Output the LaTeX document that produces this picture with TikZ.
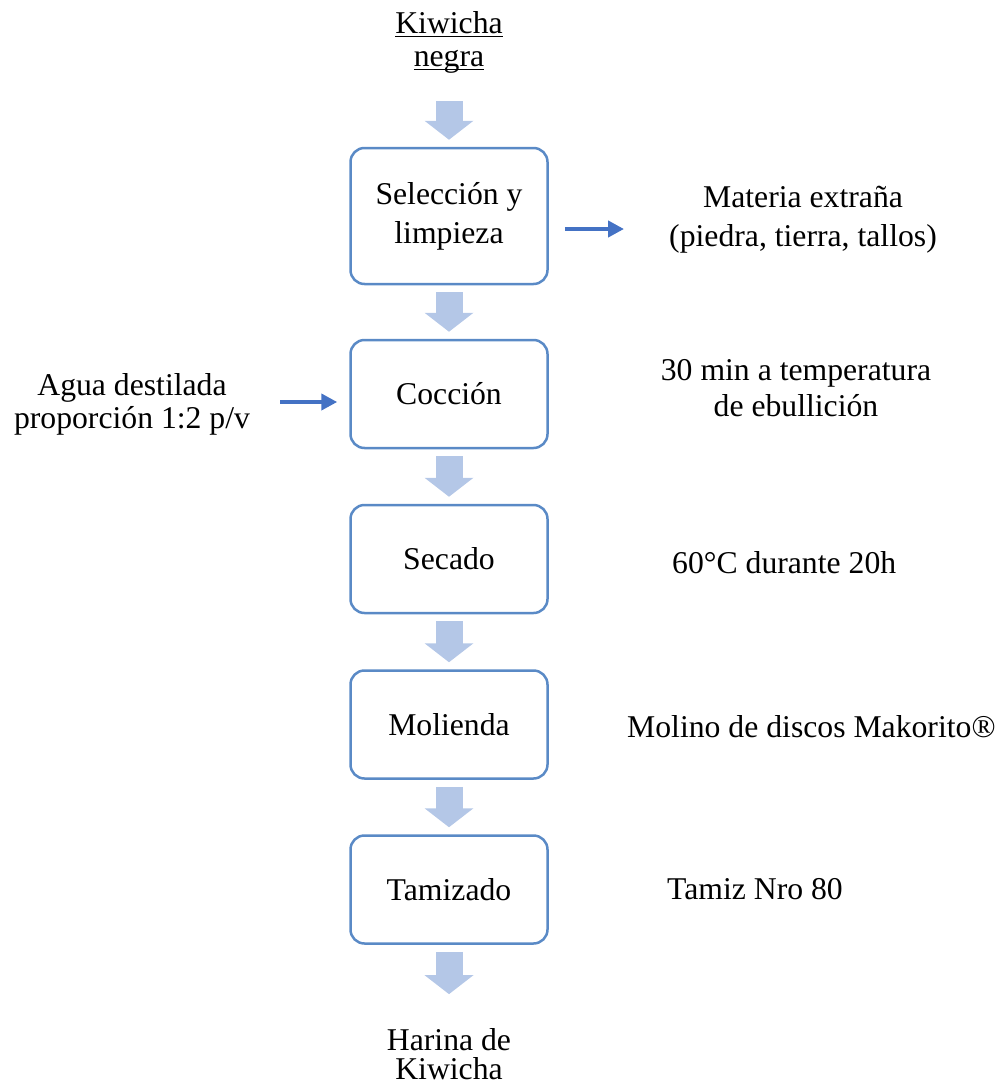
\documentclass[tikz,border=0pt]{standalone}
\usepackage{fontspec}
\setmainfont{Liberation Serif}
\usetikzlibrary{arrows.meta}
\definecolor{borde}{HTML}{5A8AC6}
\definecolor{celeste}{HTML}{B4C7E7}
\definecolor{azul}{HTML}{4472C4}
\newcommand\letra[1]{\fontsize{31.7}{#1}\selectfont}
\newcommand\subrayado[1]{\setbox0\hbox{#1}\rlap{\rule[-4pt]{\wd0}{1.3pt}}\box0}
\tikzset{
  paso/.style={draw=borde, line width=2.5pt, rounded corners=14pt,
    minimum width=197pt, minimum height=108pt, align=center, inner sep=0pt},
  texto/.style={align=center, inner sep=0pt},
  bloque/.style={draw=celeste, line width=27pt,
    -{Triangle[length=19pt,width=48pt]}, shorten <=7pt, shorten >=7pt},
  flecha/.style={draw=azul, line width=4pt, -{Triangle[length=16pt,width=16pt]}}
}
\begin{document}
\begin{tikzpicture}[x=1pt, y=-1pt, font=\letra{39}]
        \useasboundingbox (0,0) rectangle (1003,1084);
        % proceso
        \node [texto, font=\letra{33}] (kiw) at (449,42) {\subrayado{Kiwicha}\\\subrayado{negra}};
        \node [paso, minimum height=136pt] (sel) at (449,216) {Selección y\\limpieza};
        \node [paso] (coc) at (449,394) {Cocción};
        \node [paso] (sec) at (449,559) {Secado};
        \node [paso] (mol) at (449,724.5) {Molienda};
        \node [paso] (tam) at (449,889.5) {Tamizado};
        \node [texto, font=\letra{29}] (har) at (449,1054) {Harina de\\Kiwicha};
        % condiciones
        \node [texto] (mat) at (803,220) {Materia extraña\\(piedra, tierra, tallos)};
        \node [texto, font=\letra{36}] (temp) at (796,388) {30 min a temperatura\\de ebullición};
        \node [texto, anchor=west] (seco) at (672,563) {60°C durante 20h};
        \node [texto, anchor=west] (disco) at (627,727) {Molino de discos Makorito®};
        \node [texto, anchor=west] (tamiz) at (667,889) {Tamiz Nro 80};
        \node [texto, font=\letra{33}] (agua) at (132,404) {Agua destilada\\proporción 1:2 p/v};
        % flechas
        \draw [bloque, shorten <=28pt] (kiw.south) -- (sel.north);
        \draw [bloque] (sel.south) -- (coc.north);
        \draw [bloque] (coc.south) -- (sec.north);
        \draw [bloque] (sec.south) -- (mol.north);
        \draw [bloque] (mol.south) -- (tam.north);
        \draw [bloque, shorten >=34pt] (tam.south) -- (har.north);
        \draw [flecha, shorten <=16pt, shorten >=45pt] ([yshift=-13pt]sel.east) -- ([yshift=-13pt]sel.east -| mat.west);
        \draw [flecha, shorten <=30pt, shorten >=12pt] ([yshift=2pt]agua.east) -- ([yshift=2pt]agua.east -| coc.west);
      \end{tikzpicture}
\end{document}
